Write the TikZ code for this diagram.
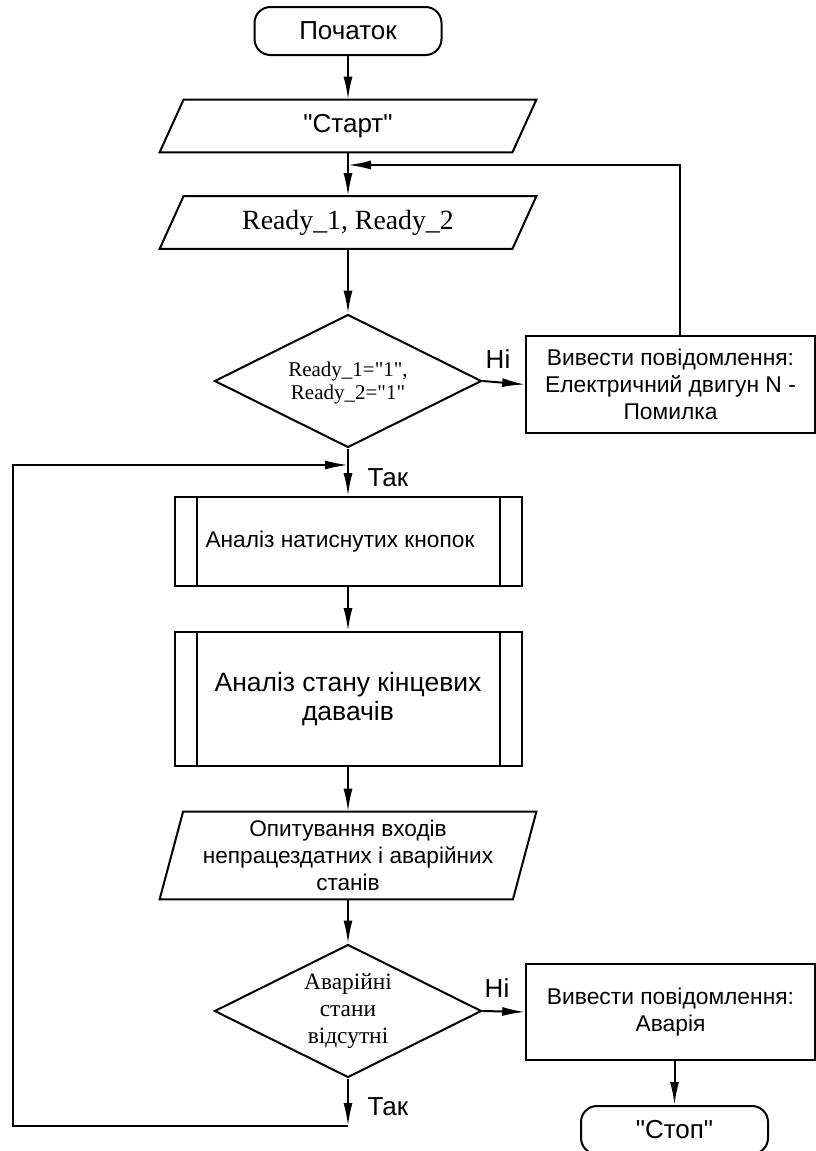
\documentclass[tikz,border=0pt]{standalone}
\usepackage{fontspec}
\setmainfont{Liberation Serif}
\setsansfont{Liberation Sans}
\usepackage{tikz}
\usetikzlibrary{arrows.meta, positioning, shapes.geometric}
\newcommand{\qt}{\XeTeXglyph\XeTeXcharglyph34\relax}

\begin{document}
\begin{tikzpicture}[x=0.5pt, y=-0.5pt,
    term/.style={draw, line width=1pt, rounded corners=8pt, minimum width=93.5pt, minimum height=24pt, font=\sffamily\fontsize{13}{15}\selectfont},
    io/.style={inner sep=0pt, minimum width=188pt, minimum height=26pt, align=center},
    decide/.style={draw, line width=1pt, diamond, shape aspect=2, inner sep=1pt, minimum width=133.5pt, minimum height=66.5pt, align=center, font=\rmfamily\fontsize{10.5}{11.5}\selectfont},
    proc/.style={draw, line width=1pt, minimum width=173.5pt, align=center},
    msg/.style={draw, line width=0.8pt, minimum width=144.5pt, align=center, font=\sffamily\fontsize{11.4}{13.5}\selectfont},
    lbl/.style={font=\sffamily\fontsize{13}{15}\selectfont},
    flow/.style={line width=1pt, -{Latex[length=11.5pt, width=4.5pt]}},
    line/.style={line width=1pt}]
  \useasboundingbox (0,0) rectangle (815,1151);
  % blocks
  \node[term] (start) at (348,31) {Початок};
  \node[io, font=\sffamily\fontsize{13}{15}\selectfont] (st) at (348,126) {\qt Старт\qt};
  \node[io, font=\rmfamily\fontsize{13.9}{15}\selectfont] (rd) at (348,222.5) {Ready\_1, Ready\_2};
  \node[decide, text depth=0pt] (d1) at (348,381) {Ready\_1=\qt 1\qt ,\\Ready\_2=\qt 1\qt};
  \node[msg, minimum height=48.5pt] (e1) at (670.5,384.5) {Вивести повідомлення:\\Електричний двигун N -\\Помилка};
  \node[proc, minimum height=44.5pt, font=\sffamily\fontsize{11.35}{13}\selectfont] (p1) at (348,541.5) {\hspace*{-8pt}Аналіз натиснутих кнопок};
  \node[proc, minimum height=67pt, font=\sffamily\fontsize{13.25}{14.5}\selectfont] (p2) at (348,699) {Аналіз стану кінцевих\\давачів};
  \node[io, minimum height=43.5pt, font=\sffamily\fontsize{11.3}{13.5}\selectfont] (inp) at (348,855.5) {Опитування входів\\непрацездатних і аварійних\\станів};
  \node[decide, font=\rmfamily\fontsize{11.7}{13.5}\selectfont] (d2) at (348,1011) {Аварійні\\стани\\відсутні};
  \node[msg, minimum height=48pt] (e2) at (670.5,1012) {Вивести повідомлення:\\Аварія};
  \node[term] (stop) at (674.5,1130) {\qt Стоп\qt};
  % labels
  \node[lbl] (no1) at (498,359) {Ні};
  \node[lbl] (yes1) at (388,478) {Так};
  \node[lbl] (no2) at (497,988) {Ні};
  \node[lbl] (yes2) at (388,1107) {Так};
  % turning points
  \coordinate (m1) at (348,165);
  \coordinate (c1) at (680,165);
  \coordinate (m2) at (348,465);
  \coordinate (m3) at (348,1126);
  \coordinate (c2) at (13,1126);
  \coordinate (c3) at (13,465);
  % slanted sides of the input blocks
  \foreach \n/\s in {st/12pt, rd/12pt, inp/11.75pt}
    \draw[line] ([xshift=\s]\n.north west) -- (\n.north east) -- ([xshift=-\s]\n.south east) -- (\n.south west) -- cycle;
  % inner lines of the subprocess boxes
  \foreach \b in {p1,p2}
    \draw[line] ([xshift=11.5pt]\b.north west) -- ([xshift=11.5pt]\b.south west)
                ([xshift=-11.5pt]\b.north east) -- ([xshift=-11.5pt]\b.south east);
  % connectors
  \draw[flow] (start) -- (st);
  \draw[flow] (st.south) -- (rd.north);
  \draw[flow] (c1 |- e1.north) -- (c1) -- (m1);
  \draw[flow] (rd.south) -- (d1.north);
  \draw[flow] (d1.east) -- (e1.west);
  \draw[flow] (d1.south) -- (p1.north);
  \draw[flow] (p1) -- (p2);
  \draw[flow] (p2) -- (inp);
  \draw[flow] (inp.south) -- (d2.north);
  \draw[flow] (d2.east) -- (e2.west);
  \draw[flow] (e2.south -| stop.north) -- (stop.north);
  \draw[flow] (d2.south) -- (m3);
  \draw[flow] (m3) -- (c2) -- (c3) -- (m2);
\end{tikzpicture}
\end{document}
